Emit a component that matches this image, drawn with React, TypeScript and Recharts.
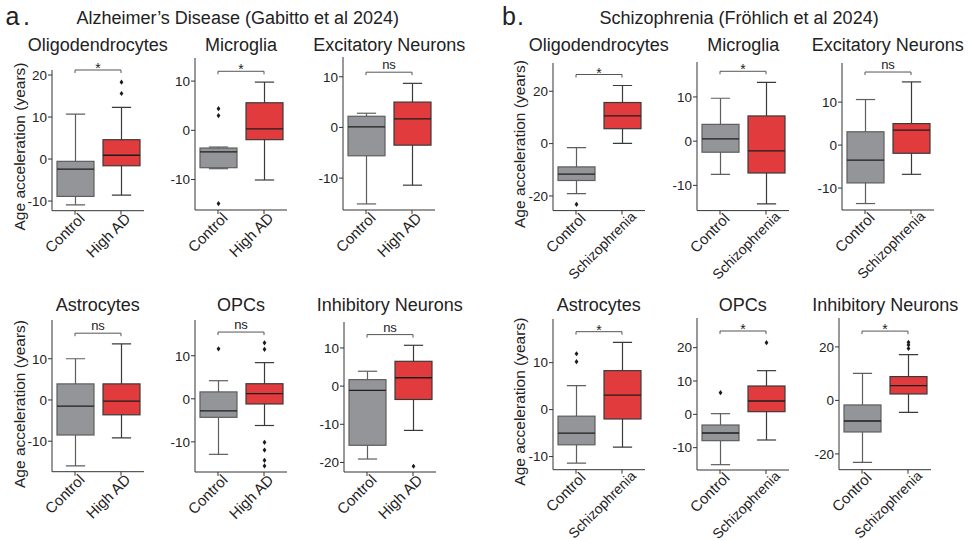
import React from 'react';
import { ComposedChart, Bar, XAxis, YAxis, ReferenceLine } from 'recharts';

const FONT = '"Liberation Sans", Arial, Helvetica, sans-serif';

// ---------- Data ----------
const adCellTypes = ['Oligodendrocytes', 'Microglia', 'Excitatory Neurons', 'Astrocytes', 'OPCs', 'Inhibitory Neurons'];
const sczCellTypes = ['Oligodendrocytes', 'Microglia', 'Excitatory Neurons', 'Astrocytes', 'OPCs', 'Inhibitory Neurons'];
const adGroups = ['Control', 'High AD'];
const sczGroups = ['Control', 'Schizophrenia'];

const adControlMin = [-10.9, -7.8, -15.1, -16.0, -12.9, -19.1];
const adControlQ1 = [-8.9, -7.6, -5.6, -8.5, -4.3, -15.5];
const adControlMedian = [-2.4, -4.4, 0.1, -1.5, -2.8, -1.1];
const adControlQ3 = [-0.55, -3.6, 2.2, 3.9, 1.6, 1.7];
const adControlMax = [10.7, -3.4, 2.8, 10.0, 4.2, 3.9];
const adControlOutliers = [[], [4.4, 3.0, -14.9], [], [], [11.6], []];

const adCaseMin = [-8.6, -10.1, -11.4, -9.2, -6.2, -11.6];
const adCaseQ1 = [-1.6, -1.9, -3.5, -3.6, -1.2, -3.5];
const adCaseMedian = [0.9, 0.3, 1.7, -0.3, 1.2, 2.2];
const adCaseQ3 = [4.6, 5.6, 5.0, 3.9, 3.5, 6.5];
const adCaseMax = [12.3, 9.8, 8.7, 13.6, 8.4, 10.7];
const adCaseOutliers = [[15.6, 18.3], [], [], [], [13.0, 11.5, -10.1, -11.9, -14.3, -15.6], [-21.0]];

const sczControlMin = [-19.1, -7.5, -13.6, -11.4, -15.1, -23.2];
const sczControlQ1 = [-14.1, -2.5, -8.8, -7.5, -7.9, -11.8];
const sczControlMedian = [-11.7, 0.5, -3.5, -5.0, -5.6, -7.7];
const sczControlQ3 = [-8.9, 3.8, 3.1, -1.4, -3.2, -1.7];
const sczControlMax = [-1.5, 9.7, 10.6, 5.1, 0.2, 10.1];
const sczControlOutliers = [[-23.2], [], [], [11.9, 10.2], [6.5], []];

const sczCaseMin = [0.1, -14.2, -6.8, -8.0, -7.7, -4.5];
const sczCaseQ1 = [5.7, -7.2, -1.9, -2.0, 0.8, 2.4];
const sczCaseMedian = [10.6, -2.2, 3.5, 3.1, 4.0, 5.5];
const sczCaseQ3 = [15.7, 5.7, 5.0, 8.3, 8.5, 8.9];
const sczCaseMax = [22.2, 13.3, 14.7, 14.3, 13.1, 17.1];
const sczCaseOutliers = [[], [], [], [], [21.5], [19.4, 20.7, 21.7]];

const adSignificance = ['*', '*', 'ns', 'ns', 'ns', 'ns'];
const sczSignificance = ['*', '*', 'ns', '*', '*', '*'];
const adBracketY = [21.2, 12.0, 10.9, 16.2, 15.5, 13.5];
const sczBracketY = [26.4, 15.8, 17.0, 16.6, 25.0, 25.9];

const adDomains = [[-12.3, 21.2], [-16.2, 14.7], [-16.3, 13.9], [-17.4, 19.4], [-17.0, 18.3], [-22.5, 16.8]];
const sczDomains = [[-25.6, 30.8], [-15.7, 17.9], [-15.1, 19.1], [-12.8, 19.3], [-16.7, 28.9], [-25.9, 30.8]];
const adTicks = [[-10, 0, 10, 20], [-10, 0, 10], [-10, 0, 10], [-10, 0, 10], [-10, 0, 10], [-20, -10, 0, 10]];
const sczTicks = [[-20, 0, 20], [-10, 0, 10], [-10, 0, 10], [-10, 0, 10], [-10, 0, 10, 20], [-20, 0, 20]];

const yAxisLabel = 'Age acceleration (years)';

// ---------- Layout ----------
const adPlotLeft = [51.7, 195, 343.3, 51.7, 195, 343.7];
const adPlotTop = [70, 58.3, 57.3, 320, 320, 321.7];
const adPlotBottom = [210.7, 210.3, 210.3, 471.7, 472, 471.7];
const sczPlotLeft = [552.7, 697.3, 841.7, 552.7, 696.7, 839.3];
const sczPlotTop = [62.7, 61.7, 63.3, 319.3, 317.7, 318.3];
const sczPlotBottom = [210.3, 210.3, 210.3, 470, 469.7, 470];
const tickLabelShiftX: Record<string, number> = { 'Control': 10.5, 'High AD': 10.5, 'Schizophrenia': 15 };
const tickLabelShiftY: Record<string, number> = { 'Control': 3, 'High AD': 3, 'Schizophrenia': 1 };
const tickLabelSize: Record<string, number> = { 'Control': 15, 'High AD': 15, 'Schizophrenia': 14 };

const PLOT_W = 92;
const GRAY = '#939598';
const RED = '#E13B3E';
const AXIS = '#333333';
const TEXT = '#222222';

type Row = {
  group: string;
  min: number; q1: number; median: number; q3: number; max: number;
  outliers: number[];
  range: [number, number];
};

function makeRow(group: string, min: number, q1: number, median: number, q3: number, max: number, outliers: number[]): Row {
  return { group, min, q1, median, q3, max, outliers, range: [min, max] };
}

const renderBox = (props: any) => {
  const { x, y, width, height, payload, index } = props;
  if (!payload || height == null) return <g />;
  const lo = payload.min;
  const hi = payload.max;
  const pix = (v: number) => y + ((hi - v) / (hi - lo)) * height;
  const cx = x + width / 2;
  const isCase = index === 1;
  const fill = isCase ? RED : GRAY;
  const line = isCase ? '#3a3a3a' : '#5e5e5e';
  const cap = width * 0.26;
  const yTop = pix(payload.q3);
  const yBot = pix(payload.q1);
  return (
    <g>
      <line x1={cx} x2={cx} y1={pix(hi)} y2={pix(lo)} stroke={line} strokeWidth={1.2} />
      <line x1={cx - cap} x2={cx + cap} y1={pix(hi)} y2={pix(hi)} stroke={line} strokeWidth={1.2} />
      <line x1={cx - cap} x2={cx + cap} y1={pix(lo)} y2={pix(lo)} stroke={line} strokeWidth={1.2} />
      <rect x={x} y={yTop} width={width} height={Math.max(yBot - yTop, 0.5)} fill={fill} stroke={line} strokeWidth={1.2} />
      <line x1={x} x2={x + width} y1={pix(payload.median)} y2={pix(payload.median)} stroke="#1e1e1e" strokeWidth={1.3} />
      {payload.outliers.map((o: number, k: number) => {
        const py = pix(o);
        return (
          <polygon key={k} points={`${cx},${py - 2.6} ${cx + 1.9},${py} ${cx},${py + 2.6} ${cx - 1.9},${py}`} fill="#1a1a1a" />
        );
      })}
    </g>
  );
};

const XTick = (props: any) => {
  const { x, y, payload } = props;
  const sx = tickLabelShiftX[payload.value] ?? 11;
  const sy = tickLabelShiftY[payload.value] ?? 2;
  const fs = tickLabelSize[payload.value] ?? 14;
  return (
    <text
      transform={`translate(${x + sx},${y + sy}) rotate(-45)`}
      textAnchor="end"
      fontSize={fs}
      fill={TEXT}
      fontFamily={FONT}
    >
      {payload.value}
    </text>
  );
};

function makeBracket(sig: string) {
  return (p: any) => {
    const { x1, y1, x2 } = p;
    if (x1 == null) return <g />;
    const star = sig === '*';
    return (
      <g>
        <line x1={x1} x2={x2} y1={y1} y2={y1} stroke="#555" strokeWidth={1} />
        <line x1={x1} x2={x1} y1={y1} y2={y1 + 3} stroke="#555" strokeWidth={1} />
        <line x1={x2} x2={x2} y1={y1} y2={y1 + 3} stroke="#555" strokeWidth={1} />
        <text
          x={(x1 + x2) / 2}
          y={star ? y1 + 3 : y1 - 3}
          textAnchor="middle"
          fontSize={star ? 14 : 13}
          fill={TEXT}
          fontFamily={FONT}
        >
          {sig}
        </text>
      </g>
    );
  };
}

type PanelProps = {
  left: number; top: number; bottom: number;
  rows: Row[]; domain: number[]; ticks: number[];
  sig: string; bracketY: number;
};

function Panel({ left, top, bottom, rows, domain, ticks, sig, bracketY }: PanelProps) {
  const YW = 40, MT = 12, MR = 6, XH = 95;
  const ph = bottom - top;
  const width = YW + PLOT_W + MR;
  const height = MT + ph + XH;
  return (
    <div style={{ position: 'absolute', left: left - YW, top: top - MT, width, height }}>
      <ComposedChart
        width={width}
        height={height}
        data={rows}
        margin={{ top: MT, right: MR, left: 0, bottom: 0 }}
        barSize={37}
      >
        <XAxis
          dataKey="group"
          type="category"
          height={XH}
          interval={0}
          tickSize={4}
          axisLine={{ stroke: AXIS, strokeWidth: 1 }}
          tickLine={{ stroke: AXIS, strokeWidth: 1 }}
          tick={<XTick />}
        />
        <YAxis
          type="number"
          domain={domain as [number, number]}
          ticks={ticks}
          width={YW}
          allowDataOverflow
          tickSize={4}
          tickMargin={1}
          axisLine={{ stroke: AXIS, strokeWidth: 1 }}
          tickLine={{ stroke: AXIS, strokeWidth: 1 }}
          tick={{ fontSize: 13.5, fill: TEXT, fontFamily: FONT }}
        />
        <Bar dataKey="range" isAnimationActive={false} shape={renderBox} />
        <ReferenceLine
          segment={[{ x: rows[0].group, y: bracketY }, { x: rows[1].group, y: bracketY }]}
          ifOverflow="visible"
          stroke="#555"
          shape={makeBracket(sig)}
        />
      </ComposedChart>
    </div>
  );
}

export default function App() {
  const adPanels = adCellTypes.map((_, i) => ({
    left: adPlotLeft[i], top: adPlotTop[i], bottom: adPlotBottom[i],
    rows: [
      makeRow(adGroups[0], adControlMin[i], adControlQ1[i], adControlMedian[i], adControlQ3[i], adControlMax[i], adControlOutliers[i]),
      makeRow(adGroups[1], adCaseMin[i], adCaseQ1[i], adCaseMedian[i], adCaseQ3[i], adCaseMax[i], adCaseOutliers[i]),
    ],
    domain: adDomains[i], ticks: adTicks[i], sig: adSignificance[i], bracketY: adBracketY[i],
  }));
  const sczPanels = sczCellTypes.map((_, i) => ({
    left: sczPlotLeft[i], top: sczPlotTop[i], bottom: sczPlotBottom[i],
    rows: [
      makeRow(sczGroups[0], sczControlMin[i], sczControlQ1[i], sczControlMedian[i], sczControlQ3[i], sczControlMax[i], sczControlOutliers[i]),
      makeRow(sczGroups[1], sczCaseMin[i], sczCaseQ1[i], sczCaseMedian[i], sczCaseQ3[i], sczCaseMax[i], sczCaseOutliers[i]),
    ],
    domain: sczDomains[i], ticks: sczTicks[i], sig: sczSignificance[i], bracketY: sczBracketY[i],
  }));

  return (
    <div style={{ position: 'absolute', left: 0, top: 0, width: 971, height: 541, background: '#fff', fontFamily: FONT, overflow: 'hidden' }}>
      {adPanels.map((p, i) => <Panel key={'ad' + i} {...p} />)}
      {sczPanels.map((p, i) => <Panel key={'scz' + i} {...p} />)}
      <svg width={971} height={541} style={{ position: 'absolute', left: 0, top: 0, pointerEvents: 'none' }} fontFamily={FONT}>
        <text x={5.5} y={25} fontSize={25} fill={TEXT}>a<tspan dx={3.5}>.</tspan></text>
        <text x={76.5} y={24} fontSize={18} fill={TEXT}>Alzheimer’s Disease (Gabitto et al 2024)</text>
        <text x={502} y={25} fontSize={25} fill={TEXT}>b<tspan dx={1}>.</tspan></text>
        <text x={599.5} y={24} fontSize={18} fill={TEXT}>Schizophrenia (Fröhlich et al 2024)</text>
        {adCellTypes.map((t, i) => (
          <text key={'at' + i} x={adPlotLeft[i] + PLOT_W / 2} y={i < 3 ? 51 : 311} textAnchor="middle" fontSize={18} fill={TEXT}>{t}</text>
        ))}
        {sczCellTypes.map((t, i) => (
          <text key={'bt' + i} x={sczPlotLeft[i] + PLOT_W / 2} y={i < 3 ? 51 : 311} textAnchor="middle" fontSize={18} fill={TEXT}>{t}</text>
        ))}
        <text transform="translate(24.5,146.5) rotate(-90)" textAnchor="middle" fontSize={15.5} fill={TEXT}>{yAxisLabel}</text>
        <text transform="translate(24.5,404) rotate(-90)" textAnchor="middle" fontSize={15.5} fill={TEXT}>{yAxisLabel}</text>
        <text transform="translate(525,144) rotate(-90)" textAnchor="middle" fontSize={15.5} fill={TEXT}>{yAxisLabel}</text>
        <text transform="translate(525,401.7) rotate(-90)" textAnchor="middle" fontSize={15.5} fill={TEXT}>{yAxisLabel}</text>
      </svg>
    </div>
  );
}
